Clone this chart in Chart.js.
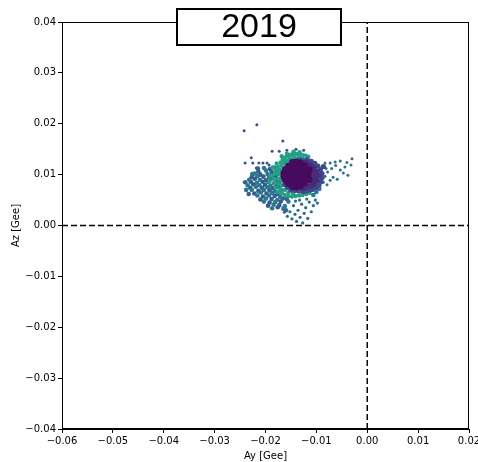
<!DOCTYPE html>
<html><head><meta charset="utf-8">
<script src="https://cdn.jsdelivr.net/npm/chart.js@4/dist/chart.umd.min.js"></script>
<style>html,body{margin:0;padding:0;background:#fff}</style>
</head><body>
<canvas id="c" width="478" height="462"></canvas>
<script>
const titleText = '2019';
const xLabel = 'Ay [Gee]';
const yLabel = 'Az [Gee]';
const xTickValues = [-0.06,-0.05,-0.04,-0.03,-0.02,-0.01,0.00,0.01,0.02];
const yTickValues = [-0.04,-0.03,-0.02,-0.01,0.00,0.01,0.02,0.03,0.04];

// dark purple core of the cloud
const corePoints = [
[-0.0147,0.0124],[-0.0139,0.0125],[-0.0131,0.0123],
[-0.0155,0.0117],[-0.0147,0.0118],[-0.0139,0.0116],[-0.0131,0.0117],[-0.0123,0.0118],
[-0.0161,0.0110],[-0.0153,0.0111],[-0.0145,0.0109],[-0.0137,0.0110],[-0.0129,0.0111],[-0.0121,0.0109],[-0.0114,0.0110],
[-0.0164,0.0103],[-0.0156,0.0102],[-0.0148,0.0104],[-0.0140,0.0103],[-0.0132,0.0102],[-0.0124,0.0104],[-0.0116,0.0103],
[-0.0164,0.0096],[-0.0156,0.0097],[-0.0148,0.0095],[-0.0140,0.0096],[-0.0132,0.0097],[-0.0124,0.0095],[-0.0116,0.0096],
[-0.0161,0.0089],[-0.0153,0.0088],[-0.0145,0.0090],[-0.0137,0.0089],[-0.0129,0.0088],[-0.0121,0.0090],[-0.0114,0.0089],
[-0.0155,0.0082],[-0.0147,0.0083],[-0.0139,0.0081],[-0.0131,0.0082],[-0.0123,0.0083],
[-0.0147,0.0076],[-0.0139,0.0075],[-0.0131,0.0077]
];
// purple-blue right half of the core
const violetInner = [
[-0.0112,0.0118],[-0.0105,0.0113],[-0.0099,0.0106],[-0.0097,0.0098],[-0.0099,0.0089],[-0.0104,0.0082],
[-0.0110,0.0078],[-0.0117,0.0077],[-0.0108,0.0100],[-0.0106,0.0092],[-0.0107,0.0108],[-0.0120,0.0124],[-0.0125,0.0073]
];
const violetOuter = [
[-0.0118,0.0129],[-0.0110,0.0126],[-0.0103,0.0122],[-0.0097,0.0117],[-0.0092,0.0110],[-0.0089,0.0102],
[-0.0089,0.0094],[-0.0091,0.0086],[-0.0095,0.0079],[-0.0101,0.0074],[-0.0108,0.0071],[-0.0115,0.0070],[-0.0086,0.0116],
[-0.0150,0.0070],[-0.0142,0.0069],[-0.0134,0.0068],[-0.0126,0.0067],[-0.0119,0.0068],[-0.0157,0.0075],
[-0.0162,0.0081],[-0.0124,0.0127],[-0.0132,0.0129]
];
// green band around the upper-left and lower side of the core
const greenPoints = [
[-0.0170,0.0124],[-0.0166,0.0130],[-0.0161,0.0134],[-0.0156,0.0137],[-0.0151,0.0139],[-0.0146,0.0140],
[-0.0141,0.0141],[-0.0136,0.0140],[-0.0131,0.0139],[-0.0126,0.0138],[-0.0121,0.0137],[-0.0116,0.0135],
[-0.0160,0.0128],[-0.0152,0.0132],[-0.0144,0.0134],[-0.0136,0.0133],[-0.0128,0.0132],
[-0.0169,0.0118],[-0.0163,0.0123],[-0.0157,0.0127],[-0.0150,0.0129],[-0.0143,0.0130],[-0.0178,0.0122],
[-0.0176,0.0115],[-0.0180,0.0108],[-0.0182,0.0101],[-0.0183,0.0092],[-0.0182,0.0083],[-0.0180,0.0074],
[-0.0176,0.0066],[-0.0172,0.0110],[-0.0174,0.0102],[-0.0175,0.0092],[-0.0174,0.0082],[-0.0171,0.0072],
[-0.0168,0.0064],[-0.0162,0.0060],[-0.0155,0.0058],[-0.0148,0.0057],[-0.0141,0.0058],[-0.0134,0.0059],
[-0.0127,0.0060],[-0.0120,0.0062],[-0.0113,0.0064],[-0.0186,0.0114],[-0.0189,0.0098],[-0.0168,0.0136],
[-0.0158,0.0141],[-0.0145,0.0145],[-0.0133,0.0144],[-0.0192,0.0086],
[-0.0168,0.0090],[-0.0169,0.0098],[-0.0168,0.0106],[-0.0165,0.0114],[-0.0159,0.0120],[-0.0153,0.0124],
[-0.0167,0.0079],[-0.0162,0.0070],[-0.0155,0.0065],[-0.0146,0.0063]
];
// teal points of the left mass
const tealPoints = [
[-0.0203,0.0113],[-0.0183,0.0114],[-0.0199,0.0108],[-0.0178,0.0107],[-0.0221,0.0102],[-0.0196,0.0101],
[-0.0175,0.0102],[-0.0216,0.0097],[-0.0193,0.0094],[-0.0232,0.0090],[-0.0211,0.0090],[-0.0188,0.0092],
[-0.0217,0.0084],[-0.0194,0.0085],[-0.0172,0.0086],[-0.0235,0.0079],[-0.0212,0.0079],[-0.0190,0.0078],
[-0.0219,0.0076],[-0.0196,0.0075],[-0.0174,0.0076],[-0.0227,0.0070],[-0.0203,0.0070],[-0.0181,0.0067],
[-0.0209,0.0065],[-0.0187,0.0064],[-0.0216,0.0059],[-0.0193,0.0059],[-0.0171,0.0056],[-0.0199,0.0053],
[-0.0177,0.0050],[-0.0203,0.0047],[-0.0181,0.0046],[-0.0184,0.0041],[-0.0162,0.0038],[-0.0187,0.0034],
[-0.0165,0.0033],[-0.0238,0.0070],[-0.0226,0.0101],[-0.0155,0.0047],[-0.0106,0.0060],[-0.0100,0.0066],
[-0.0094,0.0072]
];
// blue points of the left mass
const bluePoints = [
[-0.0191,0.0111],[-0.0214,0.0106],[-0.0188,0.0105],[-0.0210,0.0100],[-0.0185,0.0099],[-0.0227,0.0095],
[-0.0204,0.0096],[-0.0180,0.0097],[-0.0221,0.0092],[-0.0199,0.0089],[-0.0177,0.0090],[-0.0229,0.0086],
[-0.0206,0.0086],[-0.0183,0.0083],[-0.0224,0.0081],[-0.0201,0.0080],[-0.0179,0.0081],[-0.0230,0.0074],
[-0.0207,0.0074],[-0.0185,0.0073],[-0.0214,0.0068],[-0.0192,0.0069],[-0.0170,0.0070],[-0.0222,0.0063],
[-0.0198,0.0063],[-0.0176,0.0062],[-0.0205,0.0057],[-0.0182,0.0058],[-0.0210,0.0051],[-0.0188,0.0052],
[-0.0166,0.0053],[-0.0192,0.0045],[-0.0170,0.0047],[-0.0195,0.0039],[-0.0173,0.0040],[-0.0176,0.0036],
[-0.0240,0.0085],[-0.0233,0.0062],[-0.0215,0.0112],[-0.0160,0.0030],[-0.0158,0.0052]
];
// sparse tail below the cloud
const tailPoints = [
[-0.0163,0.0026],[-0.0157,0.0018],[-0.0152,0.0027],[-0.0148,0.0013],[-0.0145,0.0039],[-0.0142,0.0022],
[-0.0139,0.0008],[-0.0136,0.0030],[-0.0132,0.0016],[-0.0129,0.0042],[-0.0127,0.0005],[-0.0124,0.0024],
[-0.0121,0.0035],[-0.0117,0.0014],[-0.0114,0.0046],[-0.0110,0.0027],[-0.0106,0.0039],[-0.0102,0.0050],
[-0.0098,0.0044],[-0.0141,0.0048],[-0.0133,0.0050],[-0.0119,0.0052]
];
// isolated points up and left of the cloud
const leftOutliers = [
[-0.0242,0.0186],[-0.0217,0.0198],[-0.0166,0.0166],[-0.0187,0.0146],[-0.0173,0.0146],[-0.0228,0.0133],
[-0.0240,0.0123],[-0.0225,0.0123],[-0.0213,0.0123],[-0.0205,0.0123],[-0.0197,0.0123],[-0.0193,0.0119],
[-0.0218,0.0113],[-0.0158,0.0148],[-0.0140,0.0150],[-0.0125,0.0148]
];
// sparse points right of the cloud
const rightOutliers = [
[-0.0083,0.0123],[-0.0073,0.0123],[-0.0063,0.0125],[-0.0053,0.0127],[-0.0030,0.0131],[-0.0032,0.0119],
[-0.0044,0.0115],[-0.0053,0.0109],[-0.0047,0.0103],[-0.0038,0.0099],[-0.0067,0.0095],[-0.0059,0.0091],
[-0.0073,0.0089],[-0.0078,0.0105],[-0.0070,0.0112],[-0.0083,0.0097],[-0.0081,0.0112],[-0.0062,0.0118],
[-0.0040,0.0124],[-0.0086,0.0085],[-0.0079,0.0080]
];
const zeroLineX = [[0,-0.04],[0,0.04]];
const zeroLineY = [[-0.06,0],[0.02,0]];

const toXY = arr => arr.map(p => ({x:p[0], y:p[1]}));
const fmt = v => v.toFixed(2).replace('-', '\u2212');
const tickFont = {family:'"DejaVu Sans", sans-serif', size:10};

const framePlugin = {
  id:'frame',
  afterDatasetsDraw(chart){
    const {ctx, chartArea:a} = chart;
    ctx.save();
    ctx.strokeStyle = '#000'; ctx.lineWidth = 1;
    ctx.strokeRect(Math.round(a.left)+0.5, Math.round(a.top)+0.5, Math.round(a.right-a.left)-1, Math.round(a.bottom-a.top)-1);
    ctx.fillStyle = '#fff';
    ctx.fillRect(176, 8, 166, 38);
    ctx.lineWidth = 2;
    ctx.strokeRect(177, 9, 164, 36);
    ctx.fillStyle = '#000';
    ctx.font = '34px "Liberation Sans", Arial, sans-serif';
    ctx.textAlign = 'center'; ctx.textBaseline = 'middle';
    ctx.fillText(titleText, 259, 28);
    ctx.restore();
  }
};

const sc = (data, color, r, order) => ({type:'scatter', data:toXY(data), backgroundColor:color, borderWidth:0, pointRadius:r, pointHoverRadius:r, order});
const dash = (data) => ({type:'line', data:toXY(data), borderColor:'#000', borderWidth:1.5, borderDash:[6,3], pointRadius:0, fill:false, order:10});

new Chart(document.getElementById('c'), {
  type:'scatter',
  data:{datasets:[
    sc(corePoints, '#460b5e', 3.3, 0),
    sc(violetInner, '#472c7a', 3, 1),
    sc(violetOuter, '#3f4889', 2.6, 2),
    sc(greenPoints, '#25a085', 2.2, 3),
    sc(tealPoints, '#2a7a8e', 2.3, 4),
    sc(bluePoints, '#375b8d', 2.3, 5),
    sc(tailPoints, '#2f6b8e', 1.6, 6),
    sc(leftOutliers, '#3b4f8a', 1.5, 7),
    sc(rightOutliers, '#2c718e', 1.5, 8),
    dash(zeroLineX), dash(zeroLineY)
  ]},
  options:{
    responsive:false, animation:false, devicePixelRatio:1,
    layout:{padding:{top:22, right:9, left:0, bottom:0}},
    plugins:{legend:{display:false}, tooltip:{enabled:false}},
    scales:{
      x:{type:'linear', min:-0.06, max:0.02,
        afterBuildTicks:s => { s.ticks = xTickValues.map(v => ({value:v})); },
        afterFit:s => { s.height = 33; s.paddingLeft = 0; s.paddingRight = 0; },
        grid:{drawOnChartArea:false, drawTicks:true, tickLength:4, color:'#000'},
        border:{color:'#000'},
        ticks:{font:tickFont, color:'#000', padding:2, maxRotation:0, autoSkip:false, callback:v => fmt(v)},
        title:{display:true, text:xLabel, font:tickFont, color:'#000', padding:{top:0,bottom:0}}
      },
      y:{type:'linear', min:-0.04, max:0.04,
        afterBuildTicks:s => { s.ticks = yTickValues.map(v => ({value:v})); },
        afterFit:s => { s.width = 62; s.paddingTop = 0; s.paddingBottom = 0; },
        grid:{drawOnChartArea:false, drawTicks:true, tickLength:4, color:'#000'},
        border:{color:'#000'},
        ticks:{font:tickFont, color:'#000', padding:2, autoSkip:false, callback:v => fmt(v)},
        title:{display:true, text:yLabel, font:tickFont, color:'#000', padding:{top:10,bottom:0}}
      }
    }
  },
  plugins:[framePlugin]
});
</script>
</body></html>
